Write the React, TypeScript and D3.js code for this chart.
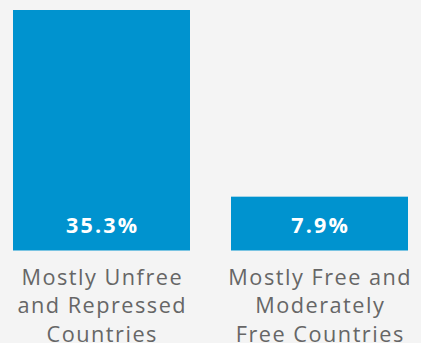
import React, { useEffect } from "react";
import * as d3 from "d3";

const categories: string[][] = [
  ["Mostly Unfree", "and Repressed", "Countries"],
  ["Mostly Free and", "Moderately", "Free Countries"],
];
const values: number[] = [35.3, 7.9];
const valueLabels: string[] = ["35.3%", "7.9%"];

const W = 421;
const H = 343;

export default function App() {
  useEffect(() => {
    document.body.style.margin = "0";
  }, []);
  const x = d3
    .scaleBand<number>()
    .domain(values.map((_, i) => i))
    .range([13, 408])
    .paddingInner(41 / 218)
    .paddingOuter(0);
  const y = d3.scaleLinear().domain([0, 35.3]).range([250.5, 10]);
  const font = "'Open Sans', 'DejaVu Sans', sans-serif";
  const lsCat = 1.5;
  const lsVal = 2.2;
  return (
    <svg width={W} height={H} style={{ display: "block", position: "absolute", left: 0, top: 0 }}>
      <rect x={0} y={0} width={W} height={H} fill="#f4f4f4" />
      {values.map((v, i) => {
        const bx = x(i)!;
        const bw = x.bandwidth();
        const cx = bx + bw / 2;
        return (
          <g key={i}>
            <rect x={bx} y={y(v)} width={bw} height={y(0) - y(v)} fill="#0093cf" />
            <text
              x={cx + lsVal / 2}
              y={y(0) - 17.2}
              textAnchor="middle"
              fill="#ffffff"
              fontFamily={font}
              fontWeight={700}
              fontSize={21.5}
              letterSpacing={lsVal}
            >
              {valueLabels[i]}
            </text>
            {categories[i].map((line, j) => (
              <text
                key={j}
                x={cx + lsCat / 2}
                y={285 + j * 28.3}
                textAnchor="middle"
                fill="#666666"
                fontFamily={font}
                fontSize={21.7}
                letterSpacing={lsCat}
              >
                {line}
              </text>
            ))}
          </g>
        );
      })}
    </svg>
  );
}
